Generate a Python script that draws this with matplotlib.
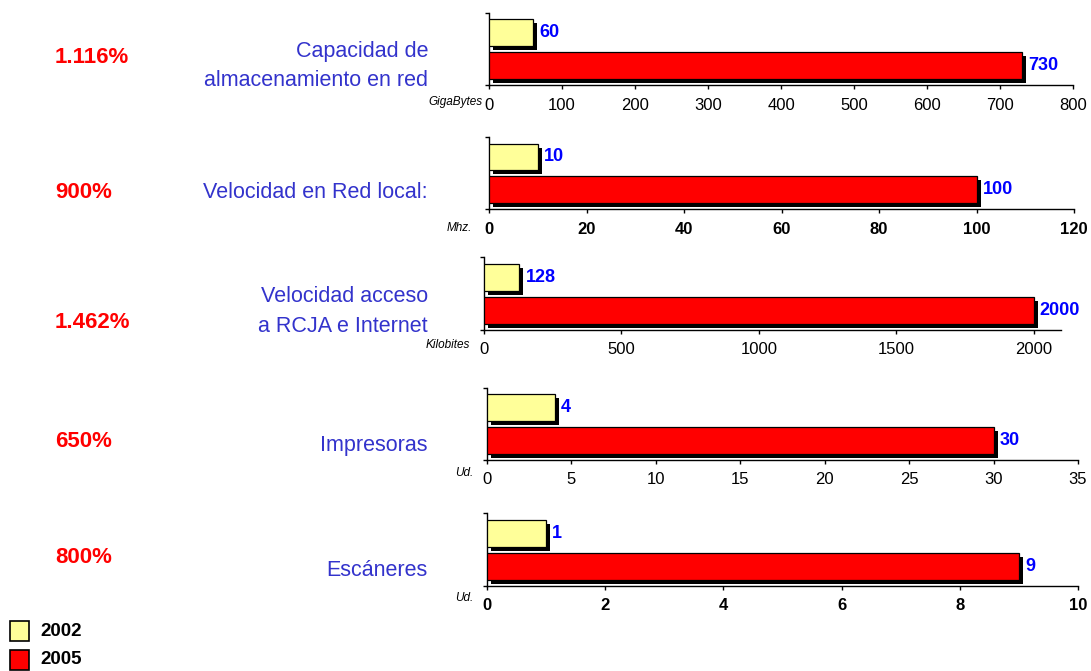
import matplotlib
matplotlib.use("Agg")
import matplotlib.pyplot as plt
from matplotlib.patches import Rectangle
import matplotlib.patheffects as pe

plt.rcParams['font.family'] = ['Liberation Sans', 'DejaVu Sans']

# ---- data ----
categories = ["Capacidad de\nalmacenamiento en red",
              "Velocidad en Red local:",
              "Velocidad acceso\na RCJA e Internet",
              "Impresoras",
              "Escáneres"]
units = ["GigaBytes", "Mhz.", "Kilobites", "Ud.", "Ud."]
growth = ["1.116%", "900%", "1.462%", "650%", "800%"]
values_2002 = [60, 10, 128, 4, 1]
values_2005 = [730, 100, 2000, 30, 9]
x_max = [800, 120, 2100, 35, 10]
x_ticks = [
    [0, 100, 200, 300, 400, 500, 600, 700, 800],
    [0, 20, 40, 60, 80, 100, 120],
    [0, 500, 1000, 1500, 2000],
    [0, 5, 10, 15, 20, 25, 30, 35],
    [0, 2, 4, 6, 8, 10],
]
years = ["2002", "2005"]

# ---- styling ----
W, H = 1091, 671
color_2002 = "#FFFF99"
color_2005 = "#FF0000"
label_blue = "#3333CC"
value_blue = "#0000FF"
pct_red = "#FF0000"

# panel boxes in pixels: left, right, top, bottom
panel_px = [
    (489, 1073, 12.7, 85),
    (489, 1074, 137.3, 209.3),
    (484, 1061, 257.3, 330),
    (487, 1078, 388, 460),
    (487, 1078, 513.3, 586),
]
label_y = [65.5, 192, 311.5, 445, 570]
pct_y = [57.5, 192.5, 322.5, 441.5, 557.5]
unit_pos = [(483, 102), (472, 228), (470, 345), (473, 473), (473, 598)]
tick_bold = [False, True, False, False, True]


def fx(x):
    return x / W


def fy(y):
    return 1 - y / H


fig = plt.figure(figsize=(W / 100, H / 100), dpi=100)
fig.patch.set_facecolor("white")

shadow = [pe.SimplePatchShadow(offset=(2.9, -2.9), shadow_rgbFace="black", alpha=1.0),
          pe.Normal()]

for i in range(len(categories)):
    l, r, t, b = panel_px[i]
    ax = fig.add_axes([fx(l), fy(b), (r - l) / W, (b - t) / H])
    ypos = [1, 0]
    vals = [values_2002[i], values_2005[i]]
    cols = [color_2002, color_2005]
    bars = ax.barh(ypos, vals, height=0.82, color=cols, edgecolor="black",
                   linewidth=0.9, zorder=3)
    for bar in bars:
        bar.set_path_effects(shadow)
    for yy, v in zip(ypos, vals):
        ax.annotate(f"{v}", xy=(v, yy), xytext=(4.5, 0), textcoords="offset points",
                    ha="left", va="center", color=value_blue, fontsize=13,
                    fontweight="bold", zorder=4)
    ax.set_xlim(0, x_max[i])
    ax.set_ylim(-0.6, 1.6)
    ax.set_xticks(x_ticks[i])
    ax.set_xticklabels([str(v) for v in x_ticks[i]], fontsize=12,
                       fontweight="bold" if tick_bold[i] else "normal")
    ax.set_yticks([-0.6, 1.6])
    ax.set_yticklabels([])
    ax.tick_params(axis="x", direction="out", length=3, width=1, pad=6, color="black")
    ax.tick_params(axis="y", direction="out", length=3, width=1, color="black")
    for s in ("top", "right"):
        ax.spines[s].set_visible(False)
    for s in ("left", "bottom"):
        ax.spines[s].set_linewidth(1)
        ax.spines[s].set_color("black")
    ax.set_facecolor("none")

    # category name, growth and unit
    fig.text(fx(428), fy(label_y[i]), categories[i], ha="right", va="center",
             fontsize=15.5, color=label_blue, linespacing=1.5)
    fig.text(fx(55), fy(pct_y[i]), growth[i], ha="left", va="center",
             fontsize=16, fontweight="bold", color=pct_red)
    ux, uy = unit_pos[i]
    fig.text(fx(ux), fy(uy), units[i], ha="right", va="center",
             fontsize=8.5, fontstyle="italic", color="black")

# legend
legend_y = [631, 660]
for yr, col, cy in zip(years, [color_2002, color_2005], legend_y):
    fig.add_artist(Rectangle((fx(9.5), fy(cy + 10)), 19.5 / W, 20 / H,
                             transform=fig.transFigure, facecolor=col,
                             edgecolor="black", linewidth=1.2))
    fig.text(fx(40), fy(cy), yr, ha="left", va="center", fontsize=13.5,
             fontweight="bold", color="black")

fig.savefig("out.png", dpi=100)
